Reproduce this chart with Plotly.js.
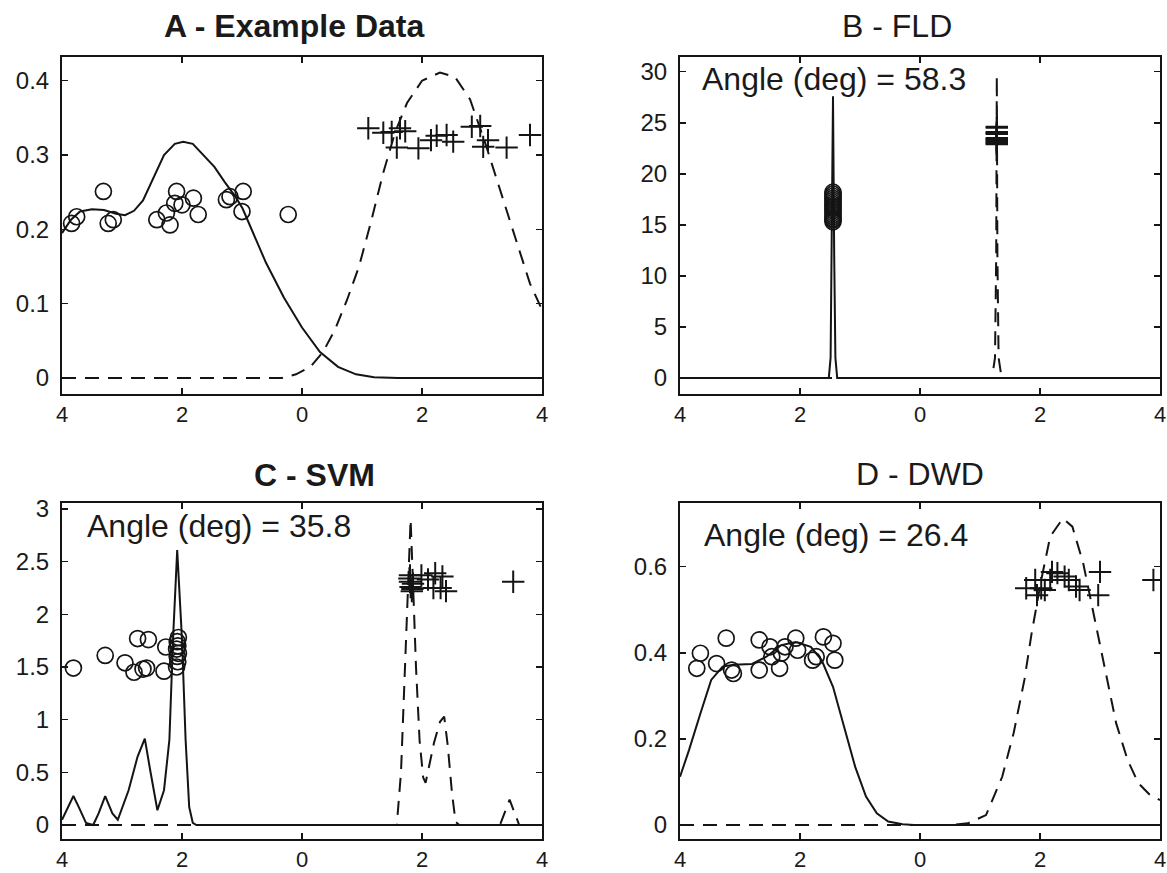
<!DOCTYPE html>
<html>
<head>
<meta charset="utf-8">
<script src="https://cdn.plot.ly/plotly-3.0.1.min.js"></script>
<style>
html,body{margin:0;padding:0;background:#fff;}
#chart{width:1167px;height:873px;}
</style>
</head>
<body>
<div id="chart"></div>
<script>
// ---------- shared ticks ----------
const xTickVals = [-4, -2, 0, 2, 4];
const xTickText = ['4', '2', '0', '2', '4'];

// ---------- Panel A : Example Data ----------
const aSolidX = [-4.0, -3.85, -3.7, -3.5, -3.3, -3.1, -2.95, -2.8, -2.65, -2.47, -2.3, -2.12, -1.98, -1.82, -1.64, -1.46, -1.29, -1.11, -0.99, -0.87, -0.6, -0.3, 0.0, 0.3, 0.6, 0.9, 1.2, 1.6, 4.0];
const aSolidY = [0.195, 0.213, 0.224, 0.227, 0.226, 0.221, 0.219, 0.225, 0.239, 0.27, 0.30, 0.315, 0.318, 0.315, 0.30, 0.284, 0.264, 0.244, 0.228, 0.205, 0.155, 0.108, 0.068, 0.035, 0.015, 0.005, 0.001, 0, 0];
const aDashX = [-4.0, -0.34, -0.1, 0.14, 0.35, 0.55, 0.75, 0.95, 1.15, 1.35, 1.55, 1.75, 2.0, 2.3, 2.55, 2.8, 3.05, 3.3, 3.55, 3.8, 4.0];
const aDashY = [0, 0, 0.005, 0.015, 0.035, 0.065, 0.105, 0.15, 0.21, 0.275, 0.33, 0.37, 0.40, 0.411, 0.405, 0.375, 0.317, 0.255, 0.19, 0.127, 0.092];
const aCircX = [-3.755, -3.84, -3.31, -3.23, -3.145, -2.42, -2.2, -2.26, -2.09, -2.12, -2.0, -1.81, -1.73, -1.26, -1.2, -0.98, -1.0, -0.23];
const aCircY = [0.217, 0.208, 0.251, 0.208, 0.213, 0.213, 0.206, 0.222, 0.251, 0.235, 0.233, 0.242, 0.22, 0.24, 0.244, 0.251, 0.224, 0.22];
const aPlusX = [1.105, 1.355, 1.495, 1.633, 1.72, 1.58, 1.94, 2.15, 2.245, 2.41, 2.52, 2.83, 2.97, 3.02, 3.10, 3.41, 3.8];
const aPlusY = [0.336, 0.330, 0.331, 0.336, 0.332, 0.31, 0.309, 0.32, 0.326, 0.327, 0.318, 0.338, 0.339, 0.311, 0.32, 0.31, 0.327];

// ---------- Panel B : FLD ----------
const bSolidX = [-4.0, -1.52, -1.49, -1.47, -1.45, -1.43, -1.41, -1.38, 4.0];
const bSolidY = [0, 0, 2, 12, 27.6, 12, 2, 0, 0];
const bDashX = [-4.0, 1.20, 1.25, 1.27, 1.28, 1.29, 1.31, 1.36, 4.0];
const bDashY = [0, 0, 2, 12, 29.6, 12, 2, 0, 0];
const bCircX = [-1.45, -1.45, -1.45, -1.45, -1.45, -1.45, -1.45, -1.45, -1.45, -1.45, -1.45, -1.45, -1.45, -1.45, -1.45, -1.45];
const bCircY = [15.3, 15.5, 15.8, 16.0, 16.2, 16.4, 16.6, 16.8, 17.0, 17.2, 17.4, 17.6, 17.8, 18.0, 18.2, 15.6];
const bPlusX = [1.28, 1.28, 1.28, 1.28, 1.28, 1.28, 1.28, 1.28, 1.28, 1.28, 1.28, 1.28];
const bPlusY = [22.9, 23.0, 23.1, 23.2, 23.3, 23.4, 23.5, 23.9, 24.0, 24.1, 24.5, 24.6];

// ---------- Panel C : SVM ----------
const cSolidX = [-4.0, -3.9, -3.81, -3.72, -3.6, -3.48, -3.39, -3.28, -3.16, -3.07, -2.89, -2.74, -2.62, -2.53, -2.41, -2.30, -2.21, -2.15, -2.08, -2.0, -1.94, -1.88, -1.82, -1.76, 4.0];
const cSolidY = [0.05, 0.17, 0.275, 0.17, 0.02, 0, 0.11, 0.275, 0.11, 0.05, 0.33, 0.65, 0.82, 0.52, 0.14, 0.33, 0.81, 1.76, 2.61, 1.76, 0.81, 0.17, 0.02, 0, 0];
const cDashX = [-4.0, 1.58, 1.65, 1.72, 1.78, 1.81, 1.85, 1.9, 1.96, 2.02, 2.06, 2.12, 2.2, 2.3, 2.37, 2.43, 2.5, 2.56, 2.62, 3.3, 3.38, 3.46, 3.54, 3.62, 4.0];
const cDashY = [0, 0, 0.5, 1.5, 2.5, 2.9, 2.3, 1.5, 0.8, 0.45, 0.4, 0.55, 0.78, 0.98, 1.03, 0.75, 0.3, 0.03, 0, 0, 0.12, 0.24, 0.12, 0, 0];
const cCircX = [-3.81, -3.28, -2.95, -2.80, -2.74, -2.56, -2.65, -2.59, -2.30, -2.27, -2.09, -2.07, -2.08, -2.06, -2.09, -2.07, -2.08, -2.06];
const cCircY = [1.49, 1.61, 1.54, 1.45, 1.77, 1.76, 1.48, 1.49, 1.46, 1.69, 1.50, 1.55, 1.60, 1.63, 1.67, 1.70, 1.74, 1.78];
const cPlusX = [1.80, 1.80, 1.81, 1.83, 1.79, 1.85, 1.84, 1.99, 2.22, 2.34, 2.31, 2.40, 2.19, 3.52, 2.10];
const cPlusY = [2.37, 2.31, 2.26, 2.22, 2.34, 2.29, 2.24, 2.37, 2.39, 2.36, 2.25, 2.22, 2.25, 2.31, 2.33];

// ---------- Panel D : DWD ----------
const dSolidX = [-4.0, -3.85, -3.66, -3.48, -3.29, -3.11, -2.80, -2.56, -2.31, -2.07, -1.82, -1.64, -1.45, -1.27, -1.08, -0.90, -0.72, -0.53, -0.29, -0.1, 4.0];
const dSolidY = [0.112, 0.174, 0.259, 0.337, 0.368, 0.372, 0.374, 0.391, 0.418, 0.425, 0.414, 0.383, 0.321, 0.228, 0.135, 0.066, 0.027, 0.008, 0.002, 0, 0];
const dDashX = [-4.0, 0.5, 0.8, 1.1, 1.37, 1.56, 1.74, 1.86, 2.02, 2.17, 2.38, 2.54, 2.72, 2.9, 3.09, 3.27, 3.46, 3.64, 3.83, 4.0];
const dDashY = [0, 0, 0.004, 0.023, 0.112, 0.213, 0.337, 0.445, 0.569, 0.67, 0.712, 0.693, 0.608, 0.484, 0.352, 0.236, 0.151, 0.097, 0.07, 0.058];
const dCircX = [-3.72, -3.66, -3.39, -3.23, -3.14, -3.11, -2.68, -2.68, -2.50, -2.47, -2.34, -2.31, -2.25, -2.07, -2.04, -1.79, -1.73, -1.61, -1.45, -1.42];
const dCircY = [0.364, 0.399, 0.375, 0.434, 0.36, 0.352, 0.36, 0.43, 0.414, 0.391, 0.364, 0.399, 0.414, 0.434, 0.406, 0.383, 0.391, 0.437, 0.422, 0.383];
const dPlusX = [1.77, 1.92, 1.95, 2.08, 2.20, 2.29, 2.41, 2.48, 2.60, 2.66, 3.0, 2.97, 3.89, 2.17, 2.02];
const dPlusY = [0.55, 0.569, 0.534, 0.546, 0.588, 0.585, 0.577, 0.569, 0.554, 0.546, 0.588, 0.534, 0.569, 0.569, 0.55];

// ---------- titles / annotations ----------
const panelTitles = ['A - Example Data', 'B - FLD', 'C - SVM', 'D - DWD'];
const angleTexts = ['Angle (deg) = 58.3', 'Angle (deg) = 35.8', 'Angle (deg) = 26.4'];

const INK = '#141414';
const DASH = '14px,9px';

function solid(x, y, ax) {
  return {x: x, y: y, xaxis: 'x' + ax, yaxis: 'y' + ax, mode: 'lines', type: 'scatter',
          line: {color: INK, width: 2}, hoverinfo: 'skip', showlegend: false};
}
function dashed(x, y, ax) {
  return {x: x, y: y, xaxis: 'x' + ax, yaxis: 'y' + ax, mode: 'lines', type: 'scatter',
          line: {color: INK, width: 2, dash: DASH}, hoverinfo: 'skip', showlegend: false};
}
function circles(x, y, ax) {
  return {x: x, y: y, xaxis: 'x' + ax, yaxis: 'y' + ax, mode: 'markers', type: 'scatter',
          marker: {symbol: 'circle-open', size: 16, color: INK, line: {color: INK, width: 1.7}},
          hoverinfo: 'skip', showlegend: false};
}
function pluses(x, y, ax) {
  return {x: x, y: y, xaxis: 'x' + ax, yaxis: 'y' + ax, mode: 'markers', type: 'scatter',
          marker: {symbol: 'cross-thin-open', size: 16, color: INK, line: {color: INK, width: 2}},
          hoverinfo: 'skip', showlegend: false};
}

const ax = ['', '2', '3', '4'];
const data = [
  solid(aSolidX, aSolidY, ax[0]), dashed(aDashX, aDashY, ax[0]), circles(aCircX, aCircY, ax[0]), pluses(aPlusX, aPlusY, ax[0]),
  solid(bSolidX, bSolidY, ax[1]), dashed(bDashX, bDashY, ax[1]), circles(bCircX, bCircY, ax[1]), pluses(bPlusX, bPlusY, ax[1]),
  solid(cSolidX, cSolidY, ax[2]), dashed(cDashX, cDashY, ax[2]), circles(cCircX, cCircY, ax[2]), pluses(cPlusX, cPlusY, ax[2]),
  solid(dSolidX, dSolidY, ax[3]), dashed(dDashX, dDashY, ax[3]), circles(dCircX, dCircY, ax[3]), pluses(dPlusX, dPlusY, ax[3])
];

const W = 1167, H = 873;
const FONT = '"Liberation Sans", Arial, Helvetica, sans-serif';
const colL = [62 / W, 542 / W], colR = [680 / W, 1160 / W];
const rowT = [1 - 394 / H, 1 - 57.3 / H], rowB = [1 - 839 / H, 1 - 503 / H];

function xAxis(domain, anchor) {
  return {domain: domain, anchor: anchor, range: [-4, 4], tickvals: xTickVals, ticktext: xTickText,
          ticks: 'inside', ticklen: 6, tickwidth: 1.5, tickcolor: INK, showline: true, linecolor: INK, linewidth: 2,
          mirror: 'ticks', showgrid: false, zeroline: false, ticklabelstandoff: 0,
          tickfont: {family: FONT, size: 22, color: '#1a1a1a'}, fixedrange: true};
}
function yAxis(domain, anchor, range, vals, text) {
  return {domain: domain, anchor: anchor, range: range, tickvals: vals, ticktext: text,
          ticks: 'inside', ticklen: 6, tickwidth: 1.5, tickcolor: INK, showline: true, linecolor: INK, linewidth: 2,
          mirror: 'ticks', showgrid: false, zeroline: false, ticklabelstandoff: 6,
          tickfont: {family: FONT, size: 24, color: '#1a1a1a'}, fixedrange: true};
}

function ann(text, px, py, size, bold, anchor) {
  return {text: bold ? '<b>' + text + '</b>' : text, xref: 'paper', yref: 'paper', x: px / W, y: 1 - py / H,
          xanchor: anchor, yanchor: 'middle', showarrow: false,
          font: {family: FONT, size: size, color: '#1a1a1a'}};
}

const layout = {
  width: W, height: H, margin: {l: 0, r: 0, t: 0, b: 0}, paper_bgcolor: '#fff', plot_bgcolor: '#fff',
  showlegend: false,
  xaxis: xAxis(colL, 'y'),
  yaxis: yAxis(rowT, 'x', [-0.0215, 0.4315], [0, 0.1, 0.2, 0.3, 0.4], ['0', '0.1', '0.2', '0.3', '0.4']),
  xaxis2: xAxis(colR, 'y2'),
  yaxis2: yAxis(rowT, 'x2', [-1.566, 31.41], [0, 5, 10, 15, 20, 25, 30], ['0', '5', '10', '15', '20', '25', '30']),
  xaxis3: xAxis(colL, 'y3'),
  yaxis3: yAxis(rowB, 'x3', [-0.133, 3.057], [0, 0.5, 1, 1.5, 2, 2.5, 3], ['0', '0.5', '1', '1.5', '2', '2.5', '3']),
  xaxis4: xAxis(colR, 'y4'),
  yaxis4: yAxis(rowB, 'x4', [-0.0325, 0.748], [0, 0.2, 0.4, 0.6], ['0', '0.2', '0.4', '0.6']),
  annotations: [
    ann(panelTitles[0], 294, 26, 32, true, 'center'),
    ann(panelTitles[1], 897, 26, 32, false, 'center'),
    ann(panelTitles[2], 314, 475, 32, true, 'center'),
    ann(panelTitles[3], 920, 474, 32, false, 'center'),
    ann(angleTexts[0], 700, 79, 32, false, 'left'),
    ann(angleTexts[1], 85, 526, 32, false, 'left'),
    ann(angleTexts[2], 702, 535, 32, false, 'left')
  ]
};

Plotly.newPlot('chart', data, layout, {staticPlot: true, displayModeBar: false});
</script>
</body>
</html>
